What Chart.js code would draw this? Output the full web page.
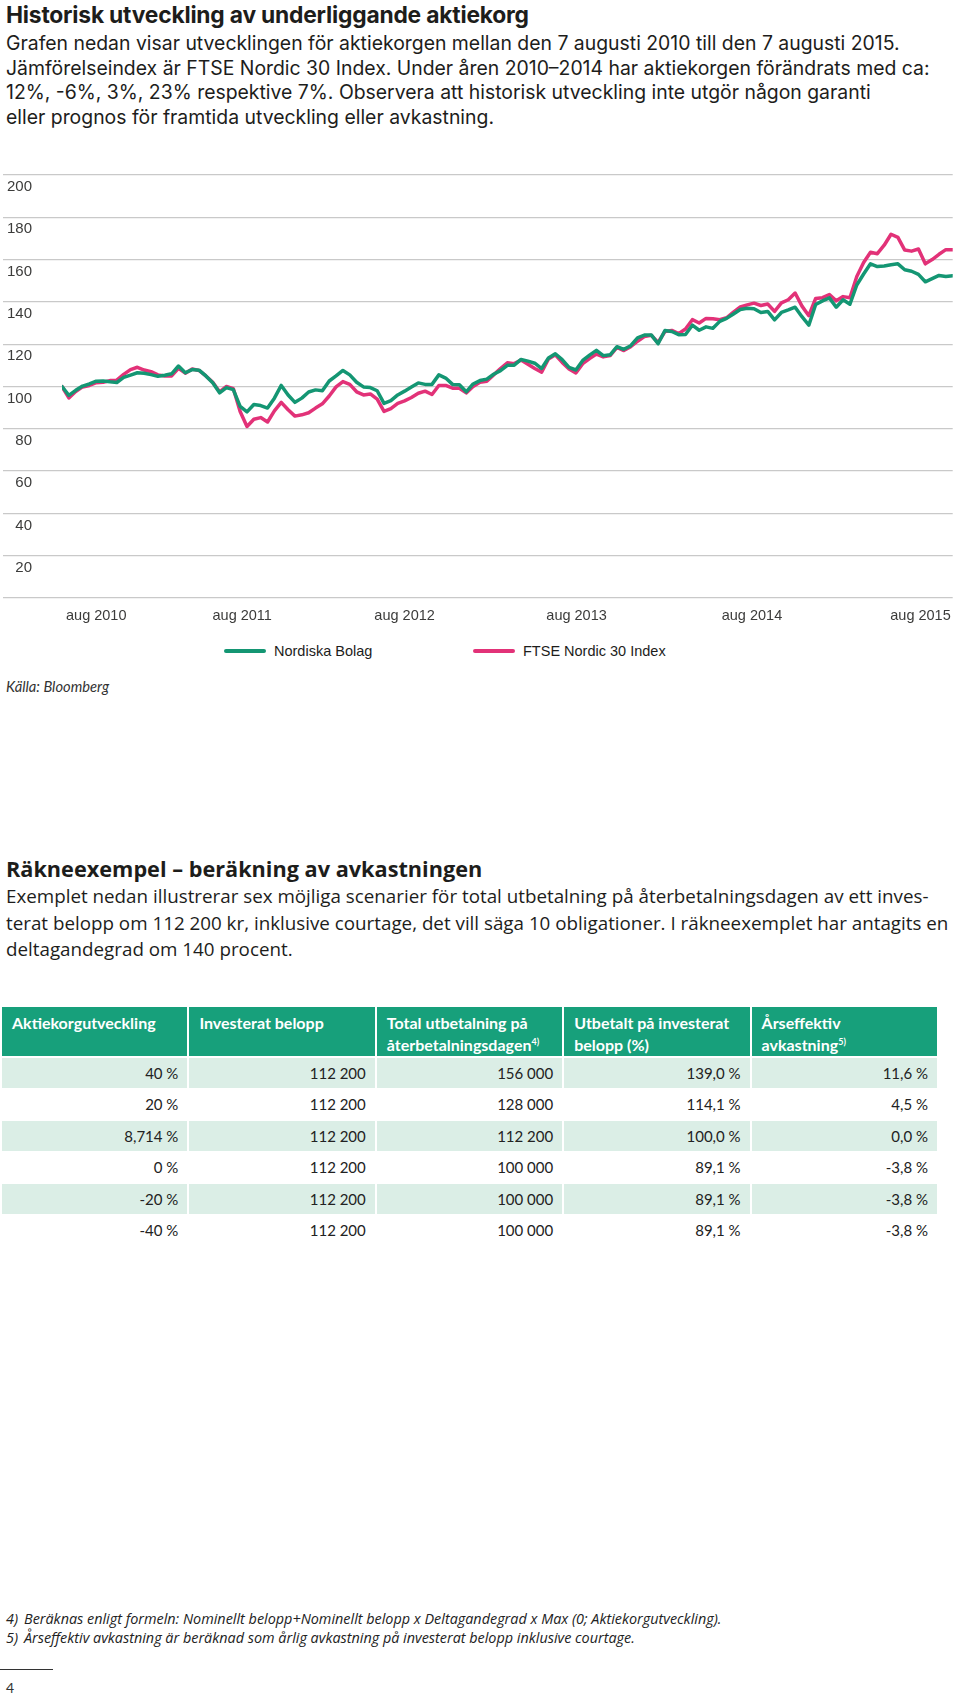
<!DOCTYPE html>
<html lang="sv">
<head>
<meta charset="utf-8">
<title>Historisk utveckling av underliggande aktiekorg</title>
<script src="https://cdn.jsdelivr.net/npm/chart.js@4.4.1/dist/chart.umd.min.js"></script>
<style>
  html, body { margin: 0; padding: 0; background: #fff; }
  body {
    width: 960px; height: 1698px; position: relative; overflow: hidden;
    color: #1d1d1b; font-family: Inter, "Liberation Sans", Arial, sans-serif;
  }
  .abs { position: absolute; left: 6px; white-space: nowrap; }
  #title { top: 1px; font-size: 22.8px; font-weight: bold; line-height: 27px; letter-spacing: -0.2px; }
  #intro { top: 31px; font-size: 19.4px; line-height: 24.6px; }
  #chartBox { position: absolute; left: 0; top: 160px; width: 960px; height: 480px; }
  .legend-item {
    position: absolute; top: 641px; height: 20px; display: flex; align-items: center;
    font-family: "Liberation Sans", Arial, sans-serif; font-size: 14.5px; color: #1d1d1b;
  }
  .legend-line { width: 42px; height: 4px; border-radius: 2px; margin-right: 8px; }
  #source { top: 677px; font-size: 14.7px; font-style: italic; font-family: Lato, sans-serif; color: #333; }
  #calcTitle { top: 855px; font-family: "Open Sans", sans-serif; font-size: 21.7px; font-weight: bold; line-height: 28px; }
  #calcText { top: 883px; font-family: "Open Sans", sans-serif; font-size: 18.8px; line-height: 26.5px; }
  #calc {
    position: absolute; top: 1005px; left: 0; width: 939px;
    border-collapse: separate; border-spacing: 2px 2px;
    font-family: Lato, sans-serif; font-size: 15px; table-layout: fixed;
  }
  #calc th {
    background: #17a07b; color: #fff; text-align: left; vertical-align: top;
    font-weight: bold; font-size: 16px; height: 49px; padding: 5px 10px 0; box-sizing: border-box;
    line-height: 22px;
  }
  #calc th sup { font-size: 9px; line-height: 0; vertical-align: 6px; }
  #calc td { height: 29.5px; padding: 0 9px 0 0; text-align: right; box-sizing: border-box; color: #222; }
  #calc tbody tr:nth-child(odd) td { background: #dbeee6; }
  #notes { top: 1610px; font-family: "Open Sans", sans-serif; font-style: italic; font-size: 14.4px; line-height: 18.6px; color: #222; }
  #notes span { display: inline-block; width: 18px; }
  #rule { position: absolute; left: 0; top: 1669px; width: 53px; height: 1px; background: #333; }
  #page { top: 1679px; font-family: Lato, sans-serif; font-size: 14px; color: #333; }
</style>
</head>
<body>

<div id="title" class="abs">Historisk utveckling av underliggande aktiekorg</div>
<div id="intro" class="abs">
  Grafen nedan visar utvecklingen för aktiekorgen mellan den 7 augusti 2010 till den 7 augusti 2015.<br>
  Jämförelseindex är FTSE Nordic 30 Index. Under åren 2010–2014 har aktiekorgen förändrats med ca:<br>
  12%, -6%, 3%, 23% respektive 7%. Observera att historisk utveckling inte utgör någon garanti<br>
  eller prognos för framtida utveckling eller avkastning.
</div>

<div id="chartBox"><canvas id="historyChart" width="960" height="480"></canvas></div>

<div id="source" class="abs">Källa: Bloomberg</div>

<div id="calcTitle" class="abs">Räkneexempel – beräkning av avkastningen</div>
<div id="calcText" class="abs">
  Exemplet nedan illustrerar sex möjliga scenarier för total utbetalning på återbetalningsdagen av ett inves-<br>
  terat belopp om 112 200 kr, inklusive courtage, det vill säga 10 obligationer. I räkneexemplet har antagits en<br>
  deltagandegrad om 140 procent.
</div>

<table id="calc">
  <thead>
    <tr>
      <th>Aktiekorgutveckling</th>
      <th>Investerat belopp</th>
      <th>Total utbetalning på<br>återbetalningsdagen<sup>4)</sup></th>
      <th>Utbetalt på investerat<br>belopp (%)</th>
      <th>Årseffektiv<br>avkastning<sup>5)</sup></th>
    </tr>
  </thead>
  <tbody></tbody>
</table>

<div id="notes" class="abs">
  <span>4)</span>Beräknas enligt formeln: Nominellt belopp+Nominellt belopp x Deltagandegrad x Max (0; Aktiekorgutveckling).<br>
  <span>5)</span>Årseffektiv avkastning är beräknad som årlig avkastning på investerat belopp inklusive courtage.
</div>
<div id="rule"></div>
<div id="page" class="abs">4</div>

<script>
// index 100 = 7 aug 2010, one value every second week
const nordiskaBolag = [
  100, 95.8, 98.2, 100.2, 101.2, 102.5, 102.6, 102.2, 101.9, 104.3,
  105.4, 106.5, 106.3, 105.6, 104.8, 105.3, 106, 109.7, 106.5, 108,
  107.7, 105, 101.8, 97, 99.5, 98.5, 90.6, 88, 91.5, 91,
  89.8, 94.5, 100.5, 96, 92.5, 94.5, 97.4, 98.4, 98, 102.6,
  105, 107.6, 105.5, 102, 99.8, 99.5, 98, 92, 93.3, 96,
  97.8, 99.8, 101.7, 101, 101, 105.5, 104, 101, 100.8, 97.5,
  101.2, 102.8, 103.5, 105.8, 107.5, 110, 110.1, 112.8, 112, 111,
  108.5, 113.5, 115.5, 112.7, 109, 107.8, 112.3, 114.8, 117.1, 114.6,
  115, 118.8, 117.6, 119.3, 123, 124.3, 124.4, 120.2, 126.5, 126,
  124.5, 124.6, 129, 126.6, 128.2, 127.5, 130.8, 132.2, 134.3, 136.4,
  137, 136.8, 135, 135.5, 131.5, 135, 136.2, 137.5, 133, 129,
  138.8, 140.5, 141.9, 137.5, 141, 138.9, 148, 153.2, 158, 156.7,
  157, 157.6, 158, 155.2, 154.5, 153, 149.5, 151, 152.5, 152,
  152.4
];
const ftseNordic30 = [
  100, 94.6, 97.6, 99.8, 100.5, 101.8, 102, 102.8, 103, 105.7,
  108, 109.1, 107.8, 107, 105.5, 105, 105, 108.6, 106.3, 108.3,
  107.6, 105, 102, 97.5, 100, 99, 88.2, 81.1, 84.5, 85.3,
  83.2, 88.5, 92.5, 89, 86, 86.6, 87.6, 89.8, 91.8, 95.5,
  99.8, 102.3, 101, 97.5, 96, 96.5, 94, 88.2, 89.5, 92,
  93.2, 94.8, 96.8, 97.8, 96.2, 100.5, 100.5, 99.2, 99.2, 97,
  100, 102, 102.5, 105.5, 108.5, 111.2, 110.8, 112.5, 110.5, 108.5,
  106.8, 113, 115, 111.4, 108.3, 106.4, 110.8, 113.2, 115.3, 114,
  114.6, 118.5, 117, 118.8, 121.4, 123.6, 124.2, 120.8, 126, 126.5,
  125, 127.2, 131.6, 130, 132.2, 132, 131.6, 132.5, 135.2, 137.6,
  138.6, 139.4, 138.3, 139, 135.5, 139.5, 141, 144.2, 138, 133.5,
  141.6, 142, 143.5, 140.5, 142.5, 142, 152, 158.6, 163.5, 162.8,
  166.8, 172, 170.5, 164.5, 164, 165, 158, 160, 162.5, 164.7,
  164.7
];
const seriesNames = ["Nordiska Bolag", "FTSE Nordic 30 Index"];
const seriesColors = ["#149673", "#e23278"];

const xTickLabels = ["aug 2010", "aug 2011", "aug 2012", "aug 2013", "aug 2014", "aug 2015"];
const xTickPos = [5, 26.3, 50, 75.1, 100.7, 125.3];

const scenarioChange = ["40 %", "20 %", "8,714 %", "0 %", "-20 %", "-40 %"];
const invested = ["112 200", "112 200", "112 200", "112 200", "112 200", "112 200"];
const totalPayout = ["156 000", "128 000", "112 200", "100 000", "100 000", "100 000"];
const payoutPct = ["139,0 %", "114,1 %", "100,0 %", "89,1 %", "89,1 %", "89,1 %"];
const annualReturn = ["11,6 %", "4,5 %", "0,0 %", "-3,8 %", "-3,8 %", "-3,8 %"];

const tickFont = { family: "'Liberation Sans', Arial, sans-serif", size: 14.5 };

const toPoints = (values) => values.map((v, i) => ({ x: i, y: v }));

const ctx = document.getElementById("historyChart").getContext("2d");
const historyChart = new Chart(ctx, {
  type: "line",
  data: {
    datasets: [
      { label: seriesNames[0], data: toPoints(nordiskaBolag), borderColor: seriesColors[0], backgroundColor: seriesColors[0] },
      { label: seriesNames[1], data: toPoints(ftseNordic30), borderColor: seriesColors[1], backgroundColor: seriesColors[1] },
    ],
  },
  options: {
    responsive: false,
    animation: false,
    layout: { padding: { left: 3, right: 7, top: 15, bottom: 12 } },
    plugins: { legend: { display: false }, tooltip: { enabled: false } },
    elements: {
      point: { radius: 0 },
      line: { borderWidth: 3.5, tension: 0, borderJoinStyle: "round", borderCapStyle: "round" },
    },
    scales: {
      x: {
        type: "linear",
        min: 0,
        max: nordiskaBolag.length - 1,
        grid: { display: false, drawTicks: false },
        border: { display: false },
        afterBuildTicks: (scale) => {
          scale.ticks = xTickPos.map((v) => ({ value: v }));
        },
        afterFit: (scale) => {
          scale.height = 30;
        },
        ticks: {
          autoSkip: false,
          maxRotation: 0,
          padding: 9,
          color: "#3c3c3b",
          font: tickFont,
          callback: (value, index) => xTickLabels[index],
        },
      },
      y: {
        min: 0,
        max: 200,
        grid: { color: "#c9c9c9", lineWidth: 1.3, drawTicks: true, tickLength: 59 },
        border: { display: false },
        afterFit: (scale) => {
          scale.width = 59;
        },
        ticks: {
          stepSize: 20,
          padding: -29,
          crossAlign: "near",
          labelOffset: 12,
          color: "#3c3c3b",
          font: { family: tickFont.family, size: 15 },
          callback: (value) => (value === 0 ? "" : value),
        },
      },
    },
  },
});

// legend under the chart, built from the chart's datasets
const legendLeft = [224, 473];
historyChart.data.datasets.forEach((ds, i) => {
  const item = document.createElement("div");
  item.className = "legend-item";
  item.style.left = legendLeft[i] + "px";
  item.innerHTML = '<span class="legend-line" style="background:' + ds.borderColor + '"></span>' + ds.label;
  document.body.appendChild(item);
});

const tbody = document.querySelector("#calc tbody");
scenarioChange.forEach((change, i) => {
  const row = document.createElement("tr");
  [change, invested[i], totalPayout[i], payoutPct[i], annualReturn[i]].forEach((text) => {
    const cell = document.createElement("td");
    cell.textContent = text;
    row.appendChild(cell);
  });
  tbody.appendChild(row);
});
</script>
</body>
</html>
